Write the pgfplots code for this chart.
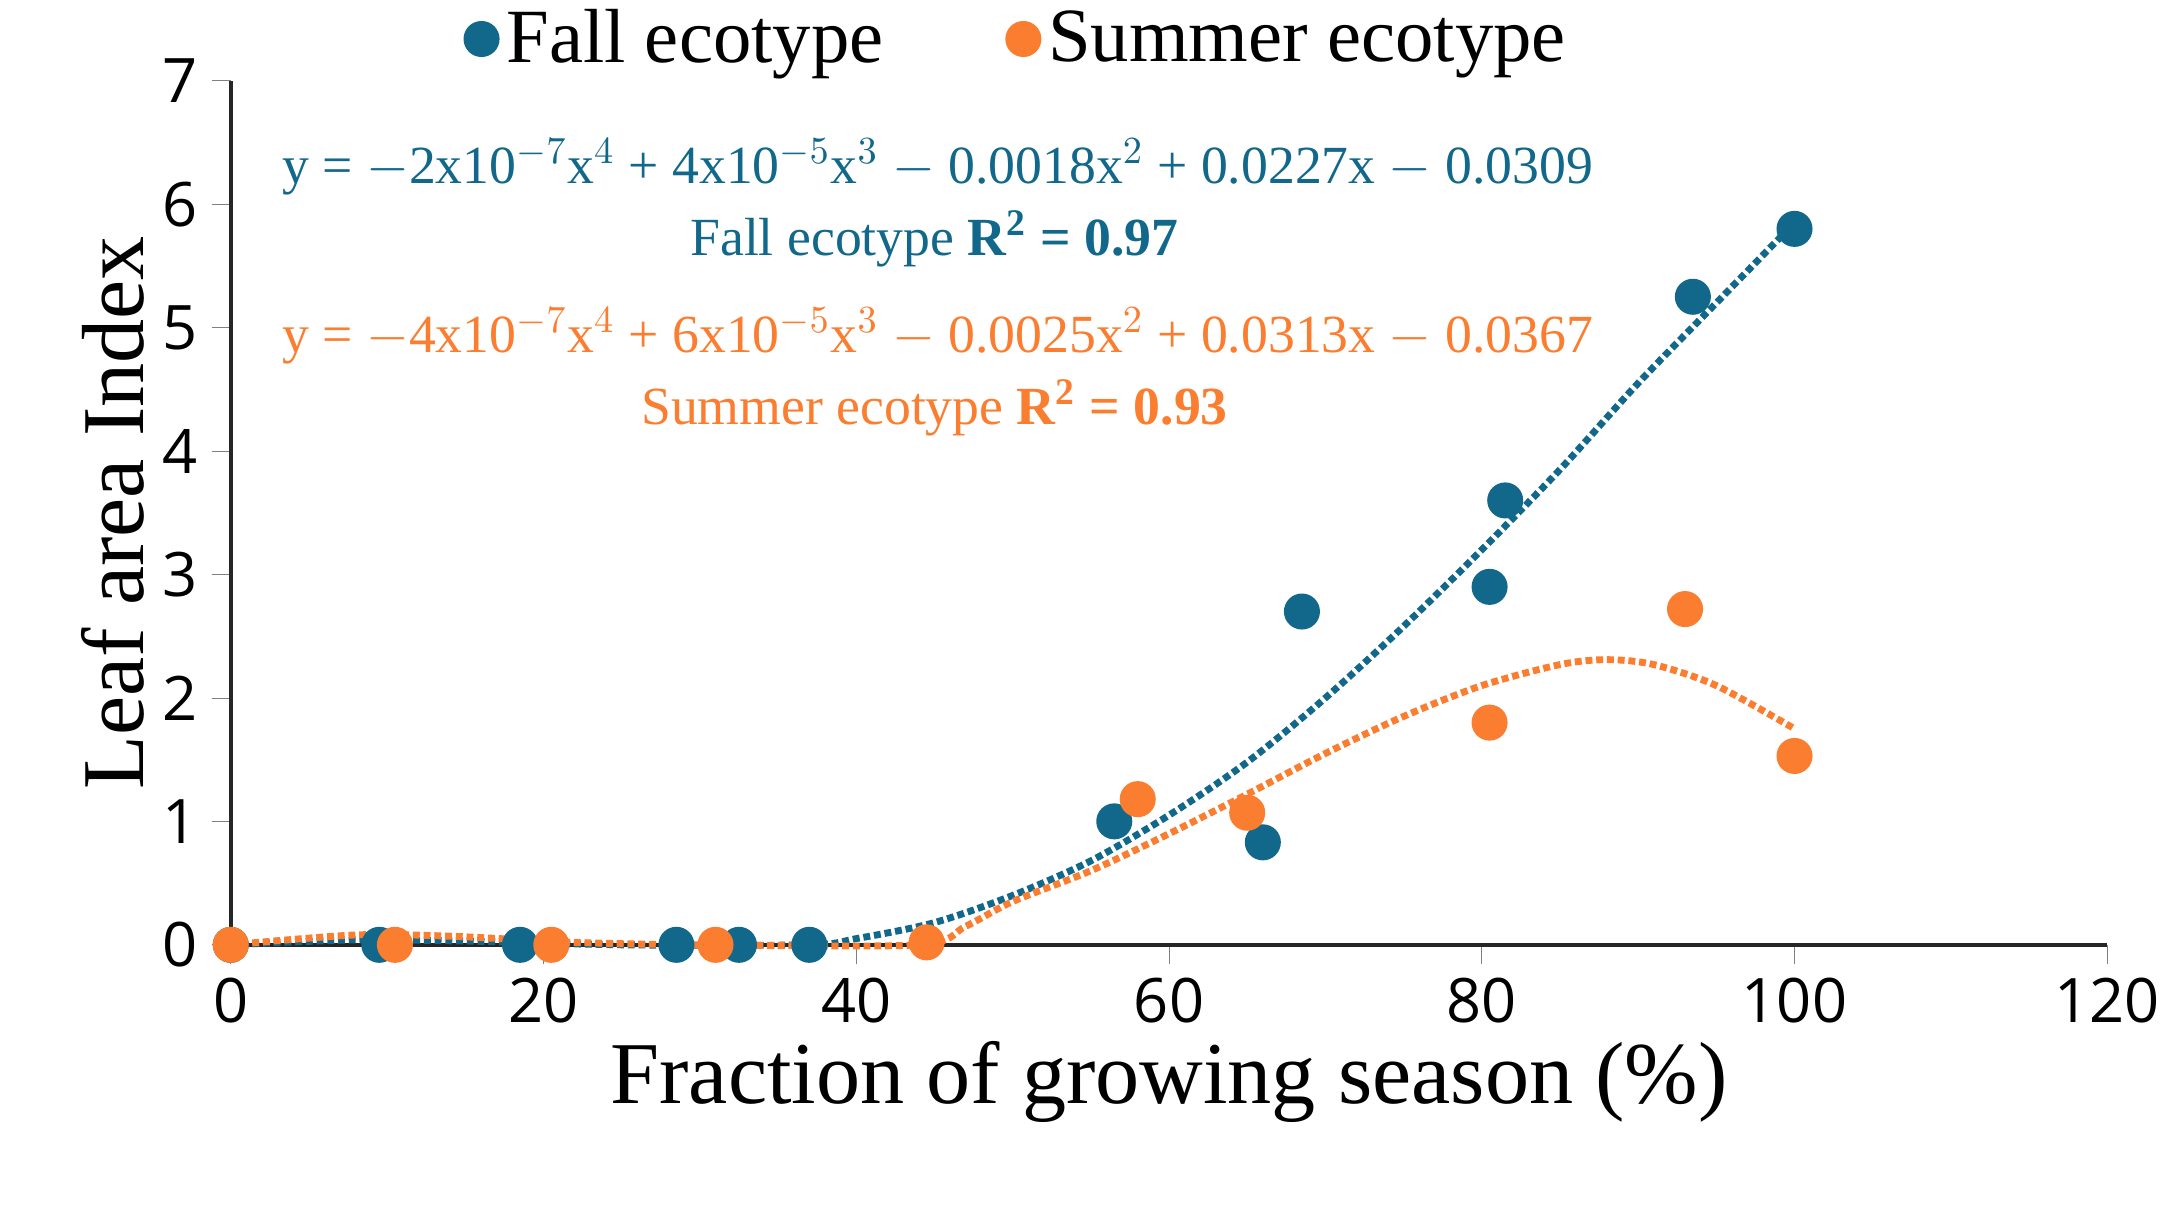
\documentclass[border=0pt]{standalone}
\usepackage{pgfplots}
\pgfplotsset{compat=1.18}
\usepackage{fontspec}
\setmainfont{Liberation Serif}
\newfontfamily\ticksf{Open Sans}
\definecolor{fallc}{RGB}{18,104,138}
\definecolor{sumc}{RGB}{250,125,48}
\begin{document}
\begin{tikzpicture}
\useasboundingbox (-2.115,-2.42) rectangle (17.885,8.66);
\begin{axis}[
  at={(0,0)}, anchor=origin,
  width=17.2cm, height=7.92cm, scale only axis,
  xmin=0, xmax=120, ymin=0, ymax=7,
  axis x line*=bottom, axis y line*=left,
  xtick={0,20,...,120}, ytick={0,1,...,7},
  tick align=outside, major tick length=5pt,
  tick label style={font=\ticksf\fontsize{16}{19}\selectfont},
  /pgf/number format/assume math mode=true,
  xlabel={Fraction of growing season (\%)},
  ylabel={Leaf area Index},
  xlabel style={font=\fontsize{23}{26}\selectfont, yshift=2pt},
  ylabel style={font=\fontsize{23}{26}\selectfont, yshift=-2pt},
  axis line style={line width=1pt, black!85},
  legend style={at={(0.42,1.0)}, anchor=south, draw=none, fill=none, legend columns=2,
    font=\fontsize{20}{22}\selectfont, inner sep=1pt, /tikz/every even column/.append style={column sep=30pt}},
  legend cell align=left,
  clip=false,
]
\addplot[only marks, mark=*, mark size=4.5pt, color=fallc] coordinates {
(0,0)(9.5,0)(18.5,0)(28.5,0)(32.5,0)(37,0)(56.5,1.0)(66,0.83)(68.5,2.7)(80.5,2.9)(81.5,3.6)(93.5,5.25)(100,5.8)};
\addlegendentry{Fall ecotype}
\addplot[only marks, mark=*, mark size=4.5pt, color=sumc] coordinates {
(0,0)(10.5,0)(20.5,0)(31,0)(44.5,0.02)(58,1.18)(65,1.07)(80.5,1.8)(93,2.72)(100,1.53)};
\addlegendentry{Summer ecotype}
\addplot[densely dotted, line width=1.8pt, color=fallc, smooth, forget plot] coordinates {
(0,0)(8,0.04)(15,0.03)(25,0.0)(37,0)(40,0.05)(45,0.18)(50,0.4)(55,0.68)(60,1.05)(65,1.48)(70,2.0)(75,2.58)(80,3.2)(85,3.85)(90,4.55)(95,5.2)(100,5.85)};
\addplot[densely dotted, line width=1.8pt, color=sumc, smooth, forget plot] coordinates {
(0,0)(8,0.08)(14,0.07)(22,0.02)(30,0)(44,0)(47,0.15)(50,0.35)(55,0.6)(60,0.9)(65,1.22)(70,1.55)(75,1.85)(80,2.1)(85,2.27)(88,2.31)(91,2.27)(95,2.1)(100,1.75)};
\node[color=fallc, font=\fontsize{14}{16}\selectfont] at (axis cs:45.2,6.3) {y = $-$2x10$^{-7}$x$^4$ + 4x10$^{-5}$x$^3$ $-$ 0.0018x$^2$ + 0.0227x $-$ 0.0309};
\node[color=fallc, font=\fontsize{14}{16}\selectfont] at (axis cs:45,5.72) {Fall ecotype \textbf{R\textsuperscript{2} = 0.97}};
\node[color=sumc, font=\fontsize{14}{16}\selectfont] at (axis cs:45.2,4.93) {y = $-$4x10$^{-7}$x$^4$ + 6x10$^{-5}$x$^3$ $-$ 0.0025x$^2$ + 0.0313x $-$ 0.0367};
\node[color=sumc, font=\fontsize{14}{16}\selectfont] at (axis cs:45,4.35) {Summer ecotype \textbf{R\textsuperscript{2} = 0.93}};
\end{axis}
\end{tikzpicture}
\end{document}
